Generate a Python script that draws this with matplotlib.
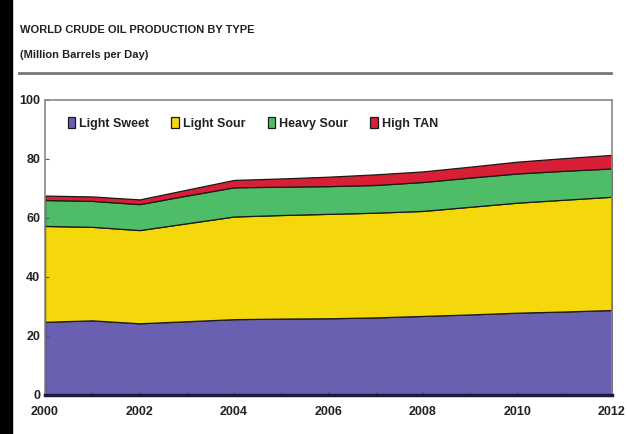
import matplotlib
matplotlib.use('Agg')
import matplotlib.pyplot as plt
from matplotlib.patches import Rectangle

plt.rcParams['font.family'] = ['Liberation Sans Narrow', 'Liberation Sans', 'DejaVu Sans']

# values (million barrels per day)
years = list(range(2000, 2013))
light_sweet = [24.8, 25.3, 24.3, 25.0, 25.7, 25.9, 26.0, 26.3, 26.8, 27.3, 27.9, 28.3, 28.8]
light_sour = [32.5, 31.7, 31.6, 33.2, 34.8, 35.1, 35.4, 35.5, 35.6, 36.5, 37.3, 37.9, 38.4]
heavy_sour = [8.8, 8.8, 8.8, 9.4, 9.9, 9.6, 9.4, 9.4, 9.8, 9.9, 9.9, 9.8, 9.6]
high_tan = [1.5, 1.5, 1.6, 2.0, 2.5, 2.8, 3.2, 3.6, 3.6, 3.7, 4.0, 4.3, 4.6]
labels = ['Light Sweet', 'Light Sour', 'Heavy Sour', 'High TAN']
colors = ['#6a60b2', '#f4d80c', '#4fbd68', '#d81f35']

fig = plt.figure(figsize=(6.27, 4.34), dpi=100)

# dark strip on the left edge of the scan
fig.patches.append(Rectangle((0, 0), 0.019, 1, transform=fig.transFigure,
                             color='black', zorder=0))

fig.text(0.032, 0.93, 'WORLD CRUDE OIL PRODUCTION BY TYPE', fontsize=8,
         fontweight='bold', color='#222222', va='center')
fig.text(0.032, 0.873, '(Million Barrels per Day)', fontsize=8,
         fontweight='bold', color='#222222', va='center')
fig.add_artist(plt.Line2D([0.03, 0.974], [0.832, 0.832], transform=fig.transFigure,
                          color='#777777', lw=2))

ax = fig.add_axes([0.0718, 0.0899, 0.9042, 0.6797])
polys = ax.stackplot(years, light_sweet, light_sour, heavy_sour, high_tan,
                     colors=colors, labels=labels, edgecolor='#1a1a1a', linewidth=0.9)

ax.set_xlim(2000, 2012)
ax.set_ylim(0, 100)
ax.set_yticks(range(0, 101, 20))
ax.set_xticks(range(2000, 2013, 2))
ax.set_xticks(years, minor=True)
ax.tick_params(axis='both', which='both', direction='in', length=3, color='#555555',
               labelsize=9, labelcolor='#222222')
ax.tick_params(axis='x', pad=8)
for lab in ax.get_xticklabels() + ax.get_yticklabels():
    lab.set_fontweight('bold')

for side in ['top', 'right', 'left']:
    ax.spines[side].set_color('#888888')
    ax.spines[side].set_linewidth(1.2)
ax.spines['bottom'].set_color('#1c1a40')
ax.spines['bottom'].set_linewidth(2.5)

leg = ax.legend(loc='upper left', bbox_to_anchor=(0.02, 0.98), ncol=4, frameon=False,
                fontsize=9, handlelength=0.6, handleheight=1.0, handletextpad=0.3,
                columnspacing=1.8)
for t in leg.get_texts():
    t.set_fontweight('bold')
    t.set_color('#222222')

fig.savefig('out.png', dpi=100)
